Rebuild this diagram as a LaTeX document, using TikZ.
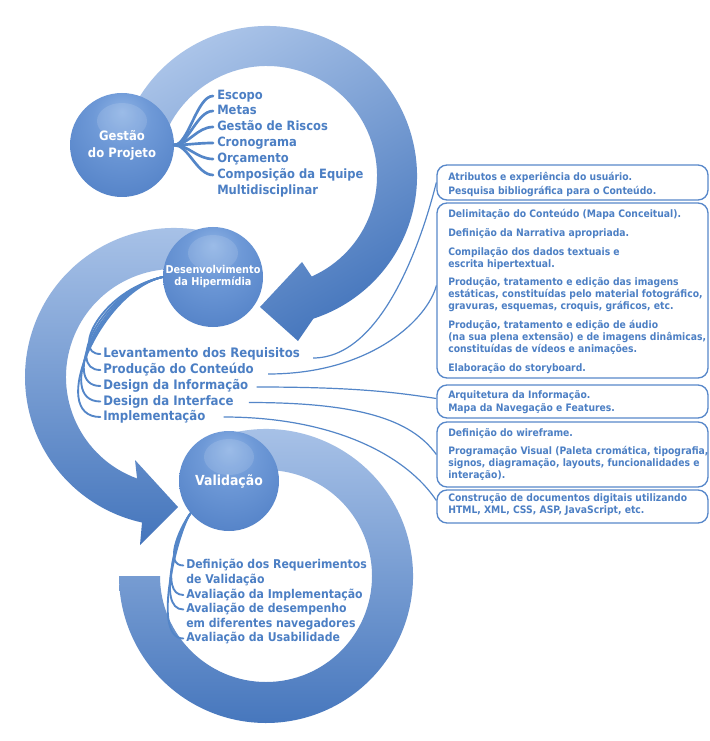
\documentclass[tikz,border=0pt]{standalone}
\usepackage{fontspec}
\newfontfamily\dv[FakeStretch=0.9]{DejaVu Sans}
\usetikzlibrary{calc}
\definecolor{tblue}{RGB}{76,127,196}
\definecolor{ringL}{RGB}{172,197,233}
\definecolor{ringM}{RGB}{118,159,217}
\definecolor{ringD}{RGB}{68,117,188}
\definecolor{sphA}{RGB}{142,179,229}
\definecolor{sphB}{RGB}{110,153,215}
\definecolor{sphC}{RGB}{88,134,202}
\definecolor{sphD}{RGB}{66,111,181}
\definecolor{lineB}{RGB}{84,134,200}
\definecolor{boxB}{RGB}{88,136,202}
\pgfdeclareradialshading{sphere}{\pgfpoint{0bp}{16bp}}{color(0bp)=(sphA); color(14bp)=(sphB); color(32bp)=(sphC); color(50bp)=(sphD); color(72bp)=(sphD)}
\begin{document}
\begin{tikzpicture}[x=0.75pt, y=-0.75pt,
  ringshade/.style={top color=ringL, middle color=ringM, bottom color=ringD},
  ball/.style={circle, inner sep=0pt, shade, shading=sphere, text=white, align=center,
    path picture={\fill[white, opacity=0.12] ($(path picture bounding box.center)+(0,-24)$) ellipse [x radius=25, y radius=18];}},
  itG/.style={anchor=west, inner sep=0pt, text=tblue, font=\dv\bfseries\fontsize{9.6pt}{12pt}\selectfont, text height=7.2pt, text depth=1.9pt},
  itD/.style={anchor=west, inner sep=0pt, text=tblue, font=\dv\bfseries\fontsize{9.8pt}{12pt}\selectfont, text height=7.35pt, text depth=1.95pt},
  itV/.style={anchor=west, inner sep=0pt, text=tblue, font=\dv\bfseries\fontsize{9.1pt}{11pt}\selectfont, text height=6.8pt, text depth=1.8pt},
  boxshape/.style={draw=boxB, line width=1pt, rounded corners=7.5pt, fill=white, inner sep=0pt, minimum width=203.25pt},
  btext/.style={anchor=west, inner sep=0pt, align=left, text=tblue, font=\dv\bfseries\fontsize{7.7pt}{9pt}\selectfont},
  gbranch/.style={draw=lineB, line width=2pt, line cap=round, shorten >=3pt},
  dbranch/.style={draw=lineB, line width=1.4pt, line cap=round, shorten >=2pt},
  conn/.style={draw=lineB, line width=0.9pt}
]
\useasboundingbox (0,0) rectangle (709,741);
\fill[white] (0,0) rectangle (709,741);

\coordinate (C1) at (267,176);
\coordinate (C2) at (174,377);
\coordinate (C3) at (266,576);

% bottom ring
\shade[ringshade] ($(C3)+(-105:147)$) arc[start angle=-105, end angle=180, radius=147]
  -- ($(C3)+(180:106)$) arc[start angle=180, end angle=-105, radius=106] -- cycle;
% middle ring with arrow
\shade[ringshade] ($(C2)+(-75:149)$) arc[start angle=-75, end angle=-257.6, radius=149]
  -- (140,545) -- (178,507) -- (135,460)
  -- ($(C2)+(-250:108)$) arc[start angle=-250, end angle=-75, radius=108] -- cycle;
% top ring with arrow
\shade[ringshade, shading angle=30] ($(C1)+(-155:150)$) arc[start angle=-155, end angle=72, radius=150]
  -- (298,341) -- (260,307) -- (302,262)
  -- ($(C1)+(66:110)$) arc[start angle=66, end angle=-155, radius=110] -- cycle;

% circles
\node[ball, minimum size=78pt, font=\dv\bfseries\fontsize{9.7pt}{12.75pt}\selectfont] (gp) at (122,145) {Gestão\\do Projeto};
\node[ball, minimum size=75pt, font=\dv\bfseries\fontsize{8.1pt}{9pt}\selectfont] (dev) at (213,277) {Desenvolvimento\\da Hipermídia};
\node[ball, minimum size=75pt, font=\dv\bfseries\fontsize{10.4pt}{12pt}\selectfont] (val) at (229,481) {Validação};

% Gestao items
\node[itG] (esc) at (217,96) {Escopo};
\node[itG] (met) at (217,111) {Metas};
\node[itG] (ris) at (217,127) {Gestão de Riscos};
\node[itG] (cro) at (217,143) {Cronograma};
\node[itG] (orc) at (217,159) {Orçamento};
\node[itG] (com) at (217,175) {Composição da Equipe};
\node[itG] (mul) at (217,190.5) {Multidisciplinar};

% Desenvolvimento items
\node[itD] (lev) at (103,354) {Levantamento dos Requisitos};
\node[itD] (pro) at (103,370) {Produção do Conteúdo};
\node[itD] (dinf) at (103,386) {Design da Informação};
\node[itD] (dint) at (103,401.5) {Design da Interface};
\node[itD] (imp) at (103,417) {Implementação};

% Validacao items
\node[itV] (def) at (186,565.5) {Definição dos Requerimentos};
\node[itV] (def2) at (186,580) {de Validação};
\node[itV] (aimp) at (186,595) {Avaliação da Implementação};
\node[itV] (ades) at (186,609.5) {Avaliação de desempenho};
\node[itV] (ades2) at (186,624) {em diferentes navegadores};
\node[itV] (ausa) at (186,638.5) {Avaliação da Usabilidade};

% boxes
\node[boxshape, minimum height=26.25pt] (b1) at (572.5,182.5) {};
\node[boxshape, minimum height=131.25pt] (b2) at (572.5,290.5) {};
\node[boxshape, minimum height=24.75pt] (b3) at (572.5,401.5) {};
\node[boxshape, minimum height=48.75pt] (b4) at (572.5,454.5) {};
\node[boxshape, minimum height=24.75pt] (b5) at (572.5,506.5) {};

\node[btext] (t1) at (448,185) {Atributos e experiência do usuário.\\[1.5pt]Pesquisa bibliográfica para o Conteúdo.};
\node[btext] (t2) at (448,291.5) {Delimitação do Conteúdo (Mapa Conceitual).\\[5pt]Definição da Narrativa apropriada.\\[5pt]Compilação dos dados textuais e\\escrita hipertextual.\\[5pt]Produção, tratamento e edição das imagens\\estáticas, constituídas pelo material fotográfico,\\gravuras, esquemas, croquis, gráficos, etc.\\[5pt]Produção, tratamento e edição de áudio\\(na sua plena extensão) e de imagens dinâmicas,\\constituídas de vídeos e animações.\\[5pt]Elaboração do storyboard.};
\node[btext] (t3) at (448,402) {Arquitetura da Informação.\\[1pt]Mapa da Navegação e Features.};
\node[btext] (t4) at (448,454.5) {Definição do wireframe.\\[5pt]Programação Visual (Paleta cromática, tipografia,\\signos, diagramação, layouts, funcionalidades e\\interação).};
\node[btext] (t5) at (448,504.5) {Construção de documentos digitais utilizando\\HTML, XML, CSS, ASP, JavaScript, etc.};

% Gestao branches
\foreach \n in {esc,met,ris,cro,orc,com}
  \draw[gbranch] (gp.east) .. controls +(14,0) and +(-20,0) .. (\n.west);

% Desenvolvimento branches
\draw[dbranch] (dev.west) .. controls +(-62,14) and +(-32,0) .. (lev.west);
\draw[dbranch] (dev.west) .. controls +(-62,14) and +(-38,0) .. (pro.west);
\draw[dbranch] (dev.west) .. controls +(-62,14) and +(-44,0) .. (dinf.west);
\draw[dbranch] (dev.west) .. controls +(-62,14) and +(-50,0) .. (dint.west);
\draw[dbranch] (dev.west) .. controls +(-62,14) and +(-57,0) .. (imp.west);

% Validacao branches
\draw[dbranch] (val.220) .. controls +(-12,16) and +(-22,0) .. (def.west);
\draw[dbranch] (val.220) .. controls +(-12,16) and +(-28,0) .. (aimp.west);
\draw[dbranch] (val.220) .. controls +(-12,16) and +(-31,0) .. (ades.west);
\draw[dbranch] (val.220) .. controls +(-12,16) and +(-36,0) .. (ausa.west);

% connectors to boxes
\draw[conn] ($(lev.east)+(13,4)$) .. controls +(72,0) and +(-12,48) .. (b1.west);
\draw[conn] ($(pro.east)+(14,4)$) .. controls +(105,0) and +(-8,32) .. ($(b2.west)+(0,-5)$);
\draw[conn] ($(dinf.east)+(8,1)$) .. controls +(100,0) and +(-40,-6) .. ($(b3.west)+(0,-3)$);
\draw[conn] ($(dint.east)+(15,1)$) .. controls +(110,0) and +(-25,-35) .. (b4.west);
\draw[conn] ($(imp.east)+(18,0)$) .. controls +(110,0) and +(-30,-45) .. ($(b5.west)+(0,-6)$);
\end{tikzpicture}
\end{document}
